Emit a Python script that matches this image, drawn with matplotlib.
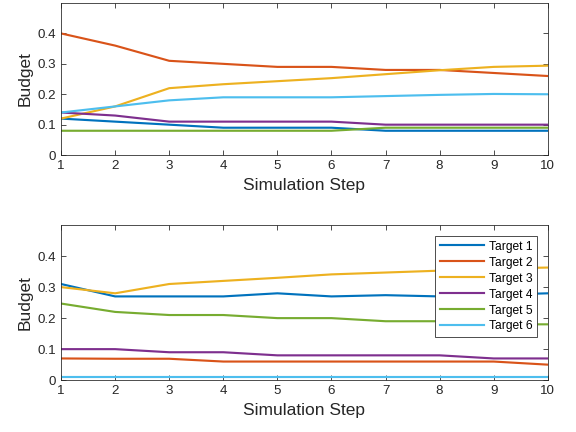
import matplotlib.pyplot as plt
import numpy as np

plt.rcParams['font.family'] = ['Liberation Sans', 'DejaVu Sans']

steps = np.arange(1, 11)
labels = ['Target 1', 'Target 2', 'Target 3', 'Target 4', 'Target 5', 'Target 6']
colors = ['#0072BD', '#D95319', '#EDB120', '#7E2F8E', '#77AC30', '#4DBEEE']

# upper panel
top_t1 = [0.12, 0.11, 0.10, 0.09, 0.09, 0.09, 0.08, 0.08, 0.08, 0.08]
top_t2 = [0.40, 0.36, 0.31, 0.30, 0.29, 0.29, 0.28, 0.28, 0.27, 0.26]
top_t3 = [0.12, 0.16, 0.22, 0.233, 0.243, 0.253, 0.266, 0.279, 0.29, 0.294]
top_t4 = [0.14, 0.13, 0.11, 0.11, 0.11, 0.11, 0.10, 0.10, 0.10, 0.10]
top_t5 = [0.08, 0.08, 0.08, 0.08, 0.08, 0.08, 0.09, 0.09, 0.09, 0.09]
top_t6 = [0.14, 0.16, 0.18, 0.19, 0.19, 0.19, 0.194, 0.198, 0.201, 0.20]

# lower panel
bot_t1 = [0.31, 0.27, 0.27, 0.27, 0.28, 0.27, 0.274, 0.27, 0.275, 0.28]
bot_t2 = [0.07, 0.069, 0.069, 0.06, 0.06, 0.06, 0.06, 0.06, 0.06, 0.05]
bot_t3 = [0.30, 0.28, 0.31, 0.32, 0.33, 0.341, 0.347, 0.353, 0.36, 0.363]
bot_t4 = [0.10, 0.10, 0.09, 0.09, 0.08, 0.08, 0.08, 0.08, 0.07, 0.07]
bot_t5 = [0.247, 0.22, 0.21, 0.21, 0.20, 0.20, 0.19, 0.19, 0.18, 0.18]
bot_t6 = [0.01, 0.01, 0.01, 0.01, 0.01, 0.01, 0.01, 0.01, 0.01, 0.01]

top_series = [top_t1, top_t2, top_t3, top_t4, top_t5, top_t6]
bot_series = [bot_t1, bot_t2, bot_t3, bot_t4, bot_t5, bot_t6]

fig = plt.figure(figsize=(6, 4.5), dpi=96)
ax1 = fig.add_axes([0.106, 0.641, 0.845, 0.352])
ax2 = fig.add_axes([0.106, 0.120, 0.845, 0.359])

axc = '#262626'
for ax, series in ((ax1, top_series), (ax2, bot_series)):
    for ys, c, lab in zip(series, colors, labels):
        ax.plot(steps, ys, color=c, lw=1.6, label=lab)
    ax.set_xlim(1, 10)
    ax.set_ylim(0, 0.5)
    ax.set_xticks(steps)
    ax.set_yticks([0, 0.1, 0.2, 0.3, 0.4])
    ax.set_yticklabels(['0', '0.1', '0.2', '0.3', '0.4'])
    ax.set_xlabel('Simulation Step', fontsize=13, color=axc, labelpad=4)
    ax.set_ylabel('Budget', fontsize=13, color=axc, labelpad=3)
    ax.tick_params(axis='both', direction='in', top=True, right=True,
                   labelsize=10, length=4, width=0.6, color=axc, labelcolor=axc, pad=4)
    for sp in ax.spines.values():
        sp.set_color(axc)
        sp.set_linewidth(0.6)

leg = ax2.legend(loc='upper right', fontsize=9, handlelength=3.7, handletextpad=0.35,
                 labelspacing=0.33, borderaxespad=0.9, fancybox=False, framealpha=1,
                 borderpad=0.4)
leg.get_frame().set_edgecolor(axc)
leg.get_frame().set_linewidth(0.6)

fig.savefig('out.png', dpi=96)
